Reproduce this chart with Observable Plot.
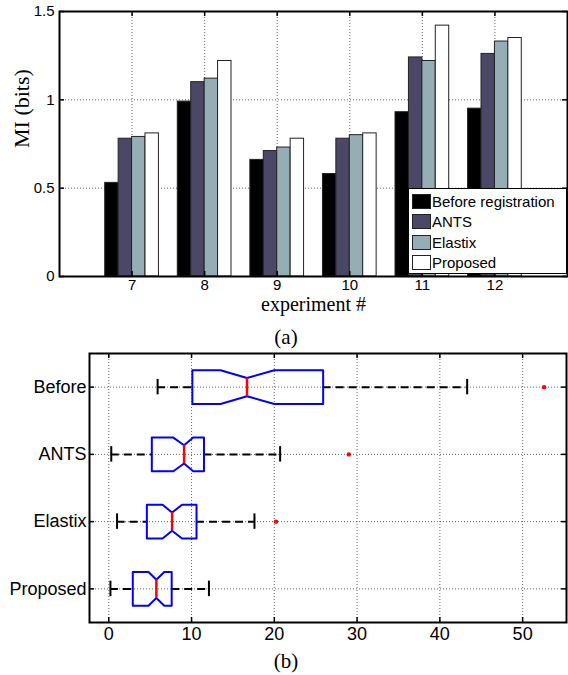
<!DOCTYPE html>
<html><head><meta charset="utf-8">
<script src="https://cdn.jsdelivr.net/npm/d3@7"></script>
<script src="https://cdn.jsdelivr.net/npm/@observablehq/plot@0.6"></script>
<style>
body{margin:0;background:#fff;}
#wrap{position:relative;width:568px;height:675px;overflow:hidden;}
#top,#bottom{position:absolute;left:0;}
#top{top:0;} #bottom{top:338px;}
.cap{position:absolute;font-family:"Liberation Serif","Times New Roman",serif;font-size:21px;line-height:1;transform:translate(-50%,-50%);}
#legend{position:absolute;left:408px;top:188px;width:157px;height:84px;border:1.5px solid #000;background:#fff;font-family:"Liberation Sans",Arial,sans-serif;font-size:15px;}
#legend .it{position:absolute;left:3px;height:16px;display:flex;align-items:center;}
#legend .sw{width:19px;height:15px;border:1px solid #222;box-sizing:border-box;margin-right:1px;}
</style></head>
<body>
<div id="wrap">
  <div id="top"></div>
  <div id="bottom"></div>
  <div id="legend"></div>
  <div class="cap" style="left:286px;top:337px;">(a)</div>
  <div class="cap" style="left:286px;top:661px;">(b)</div>
</div>
<script>
// ---------- data: bar chart (a) ----------
const experiments = [7, 8, 9, 10, 11, 12];
const methods = ["Before registration", "ANTS", "Elastix", "Proposed"];
const beforeMI   = [0.53, 0.99, 0.66, 0.58, 0.93, 0.95];
const antsMI     = [0.78, 1.10, 0.71, 0.78, 1.24, 1.26];
const elastixMI  = [0.79, 1.12, 0.73, 0.80, 1.22, 1.33];
const proposedMI = [0.81, 1.22, 0.78, 0.81, 1.42, 1.35];
const methodColors = ["#000000", "#4a4866", "#95adb4", "#ffffff"];
const yTicksA = [0, 0.5, 1, 1.5];

// ---------- data: box plot (b) ----------
const boxLabels  = ["Before", "ANTS", "Elastix", "Proposed"];
const whiskerLow = [5.9, 0.3, 1.0, 0.2];
const q1         = [10.1, 5.2, 4.6, 2.9];
const notchLow   = [13.5, 7.8, 6.5, 4.8];
const medians    = [16.7, 9.1, 7.65, 5.75];
const notchHigh  = [20.0, 10.2, 8.85, 6.7];
const q3         = [25.9, 11.5, 10.6, 7.6];
const whiskerHigh= [43.3, 20.7, 17.6, 12.1];
const outliers   = [[52.6], [29.0], [20.2], []];
const xTicksB = [0, 10, 20, 30, 40, 50];

const sans = "Liberation Sans, Arial, sans-serif";
const serif = "Liberation Serif, Times New Roman, serif";
const gridStyle = {stroke: "#000", strokeOpacity: 0.6, strokeDasharray: "1,2", strokeWidth: 1};

// ---------- chart (a) ----------
const series = [beforeMI, antsMI, elastixMI, proposedMI];
const groupW = 0.74, barW = groupW / methods.length;
const bars = [];
experiments.forEach((e, i) => methods.forEach((m, j) => {
  const x1 = e - groupW / 2 + j * barW;
  bars.push({exp: e, method: m, value: series[j][i], x1, x2: x1 + barW});
}));

const WA = 568, HA = 340, mtA = 11, mbA = 64, mlA = 59, mrA = 1;
const pwA = WA - mlA - mrA, phA = HA - mtA - mbA, tk = 5;

const chartA = Plot.plot({
  width: WA, height: HA, marginTop: mtA, marginBottom: mbA, marginLeft: mlA, marginRight: mrA,
  style: {fontFamily: sans, fontSize: "15px", background: "#fff", color: "#000", overflow: "visible"},
  x: {domain: [6, 13]},
  y: {domain: [0, 1.5]},
  color: {domain: methods, range: methodColors},
  marks: [
    Plot.ruleX(experiments, gridStyle),
    Plot.ruleY([0.5, 1], gridStyle),
    Plot.rectY(bars, {x1: "x1", x2: "x2", y1: 0, y2: "value", fill: "method", stroke: "#222", strokeWidth: 1}),
    Plot.ruleX(experiments, {insetTop: phA - tk, strokeWidth: 1.5}),
    Plot.ruleX(experiments, {insetBottom: phA - tk, strokeWidth: 1.5}),
    Plot.ruleY(yTicksA, {insetRight: pwA - tk, strokeWidth: 1.5}),
    Plot.ruleY(yTicksA, {insetLeft: pwA - tk, strokeWidth: 1.5}),
    Plot.axisX({ticks: experiments, tickSize: 0, tickPadding: 3, label: null, fontSize: 15, tickFormat: d => String(d)}),
    Plot.axisY({ticks: yTicksA, tickSize: 0, tickPadding: 5, label: null, fontSize: 15, tickFormat: d => String(d)}),
    Plot.text(["MI (bits)"], {text: d => d, frameAnchor: "left", dx: -38, dy: 4, rotate: -90, fontSize: 22, fontFamily: serif}),
    Plot.text(["experiment #"], {text: d => d, frameAnchor: "bottom", dy: 34, fontSize: 20, fontFamily: serif}),
    Plot.frame({stroke: "#000", strokeWidth: 2})
  ]
});
document.getElementById("top").append(chartA);

// legend
const leg = document.getElementById("legend");
methods.forEach((m, j) => {
  const it = document.createElement("div");
  it.className = "it";
  it.style.top = (4 + j * 20.5) + "px";
  it.innerHTML = `<div class="sw" style="background:${methodColors[j]}"></div><span>${m}</span>`;
  leg.append(it);
});

// ---------- chart (b) ----------
const rows = boxLabels.map((name, i) => ({
  name, row: i + 1, wl: whiskerLow[i], q1: q1[i], nl: notchLow[i], med: medians[i],
  nh: notchHigh[i], q3: q3[i], wh: whiskerHigh[i]
}));
const bh = 0.25, nhh = 0.135, cap = 0.115;
const outline = [];
rows.forEach(r => {
  [[r.q1, -bh], [r.nl, -bh], [r.med, -nhh], [r.nh, -bh], [r.q3, -bh],
   [r.q3, bh], [r.nh, bh], [r.med, nhh], [r.nl, bh], [r.q1, bh]]
   .forEach(([x, o]) => outline.push({name: r.name, x, y: r.row + o}));
});
const outPts = [];
outliers.forEach((arr, i) => arr.forEach(v => outPts.push({x: v, row: i + 1})));

const WB = 568, HB = 337, mtB = 15, mbB = 53, mlB = 89, mrB = 2;
const pwB = WB - mlB - mrB, phB = HB - mtB - mbB;
const rowTicks = [1, 2, 3, 4];

const chartB = Plot.plot({
  width: WB, height: HB, marginTop: mtB, marginBottom: mbB, marginLeft: mlB, marginRight: mrB,
  style: {fontFamily: sans, fontSize: "18px", background: "#fff", color: "#000", overflow: "visible"},
  x: {domain: [-2.33, 55.3]},
  y: {domain: [0.5, 4.5], reverse: true},
  marks: [
    Plot.ruleX(xTicksB, gridStyle),
    Plot.ruleY(rowTicks, gridStyle),
    Plot.ruleY(rows, {y: "row", x1: "wl", x2: "q1", stroke: "#000", strokeWidth: 2, strokeDasharray: "8,5"}),
    Plot.ruleY(rows, {y: "row", x1: "q3", x2: "wh", stroke: "#000", strokeWidth: 2, strokeDasharray: "8,5"}),
    Plot.ruleX(rows, {x: "wl", y1: d => d.row - cap, y2: d => d.row + cap, stroke: "#000", strokeWidth: 2}),
    Plot.ruleX(rows, {x: "wh", y1: d => d.row - cap, y2: d => d.row + cap, stroke: "#000", strokeWidth: 2}),
    Plot.line(outline, {x: "x", y: "y", z: "name", curve: "linear-closed", stroke: "#0000ff", strokeWidth: 2, fill: "none"}),
    Plot.ruleX(rows, {x: "med", y1: d => d.row - nhh, y2: d => d.row + nhh, stroke: "#ff0000", strokeWidth: 2.5}),
    Plot.dot(outPts, {x: "x", y: "row", r: 2.2, fill: "#ff0000", stroke: "none"}),
    Plot.ruleX(xTicksB, {insetTop: phB - tk, strokeWidth: 1.5}),
    Plot.ruleX(xTicksB, {insetBottom: phB - tk, strokeWidth: 1.5}),
    Plot.ruleY(rowTicks, {insetRight: pwB - tk, strokeWidth: 1.5}),
    Plot.ruleY(rowTicks, {insetLeft: pwB - tk, strokeWidth: 1.5}),
    Plot.axisX({ticks: xTicksB, tickSize: 0, tickPadding: 5, label: null, fontSize: 18, tickFormat: d => String(d)}),
    Plot.axisY({ticks: rowTicks, tickSize: 0, tickPadding: 3, label: null, fontSize: 18, tickFormat: d => boxLabels[d - 1]}),
    Plot.frame({stroke: "#000", strokeWidth: 2})
  ]
});
document.getElementById("bottom").append(chartB);
</script>
</body></html>
